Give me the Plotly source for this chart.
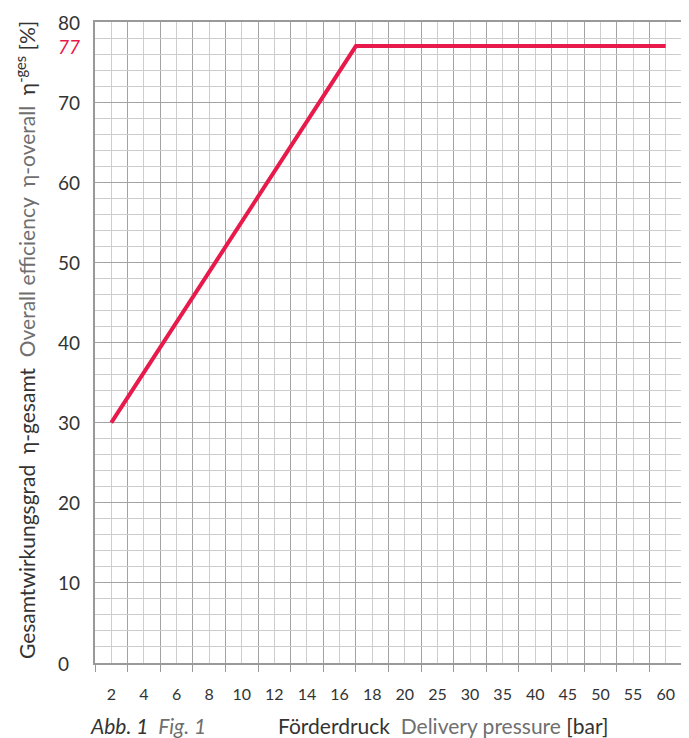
import numpy as np
import plotly.graph_objects as go

# ---- data ----
pressure_labels = [2, 4, 6, 8, 10, 12, 14, 16, 18, 20, 25, 30, 35, 40, 45, 50, 55, 60]
y_ticks = [0, 10, 20, 30, 40, 50, 60, 70, 80]
pressure = [2, 17, 60]          # bar
efficiency = [30, 77, 77]       # %
max_efficiency = 77

# axis is an index scale: each label occupies one equal slot
label_pos = np.arange(len(pressure_labels))
x_pos = np.interp(pressure, pressure_labels, label_pos)
boundaries = np.arange(len(pressure_labels) + 1) - 0.5

RED = "#e8194b"
DARK = "#333333"
GRAY = "#6f6f6f"
FONT = "Lato"
GRID_LIGHT = "#cdcdcd"
GRID_DARK = "#a2a2a2"

fig = go.Figure()
fig.add_trace(go.Scatter(
    x=x_pos, y=efficiency, mode="lines",
    line=dict(color=RED, width=4),
    hoverinfo="skip", showlegend=False,
))

fig.update_layout(
    width=681, height=730,
    margin=dict(l=87, r=5, t=14, b=75),
    paper_bgcolor="white", plot_bgcolor="white",
    font=dict(family=FONT, color=DARK),
    xaxis=dict(
        range=[boundaries[0], boundaries[-1]],
        tickmode="array", tickvals=label_pos,
        ticktext=[str(v) for v in pressure_labels],
        ticks="outside", ticklen=16, tickcolor="rgba(0,0,0,0)",
        tickfont=dict(size=16, color=DARK, family=FONT),
        showgrid=True, gridcolor=GRID_LIGHT, gridwidth=1.3,
        minor=dict(tickmode="array", tickvals=boundaries, ticks="outside",
                   ticklen=7, tickcolor="#999999", tickwidth=1.3,
                   showgrid=True, gridcolor=GRID_DARK, gridwidth=1.3),
        showline=True, linecolor="#999999", linewidth=1.6, mirror=True,
        zeroline=False, fixedrange=True,
    ),
    yaxis=dict(
        range=[0, 80], tickmode="linear", tick0=0, dtick=10,
        showticklabels=False, ticks="",
        showgrid=True, gridcolor=GRID_DARK, gridwidth=1.3,
        minor=dict(dtick=2, showgrid=True, gridcolor=GRID_LIGHT, gridwidth=1.3),
        showline=True, linecolor="#999999", linewidth=1.6, mirror=True,
        zeroline=False, fixedrange=True,
    ),
)

annotations = []
for v in y_ticks:
    annotations.append(dict(
        xref="paper", yref="y", x=-0.066, y=v, xanchor="left", yanchor="middle",
        text=str(v), showarrow=False, font=dict(size=19, color=DARK, family=FONT),
    ))
annotations.append(dict(
    xref="paper", yref="y", x=-0.066, y=max_efficiency, xanchor="left", yanchor="middle",
    text=f"<i>{max_efficiency}</i>", showarrow=False, font=dict(size=19, color=RED, family=FONT),
))
annotations.append(dict(
    xref="paper", yref="paper", x=-0.119, y=0.504, xanchor="center", yanchor="middle",
    textangle=-90, showarrow=False, font=dict(size=21, color=DARK, family=FONT),
    text=("Gesamtwirkungsgrad  η-gesamt  "
          f"<span style='color:{GRAY}'>Overall efficiency  η-overall</span>  "
          "η<sup>-ges</sup> [%]"),
))
annotations.append(dict(
    xref="paper", yref="paper", x=0.592, y=-0.098, xanchor="center", yanchor="middle",
    showarrow=False, font=dict(size=21, color=DARK, family=FONT),
    text=f"Förderdruck  <span style='color:{GRAY}'>Delivery pressure</span> [bar]",
))
annotations.append(dict(
    xref="paper", yref="paper", x=-0.012, y=-0.098, xanchor="left", yanchor="middle",
    showarrow=False, font=dict(size=21, color=DARK, family=FONT),
    text=f"<i>Abb. 1  <span style='color:{GRAY}'>Fig. 1</span></i>",
))
fig.update_layout(annotations=annotations)

fig.write_html("out.html")
